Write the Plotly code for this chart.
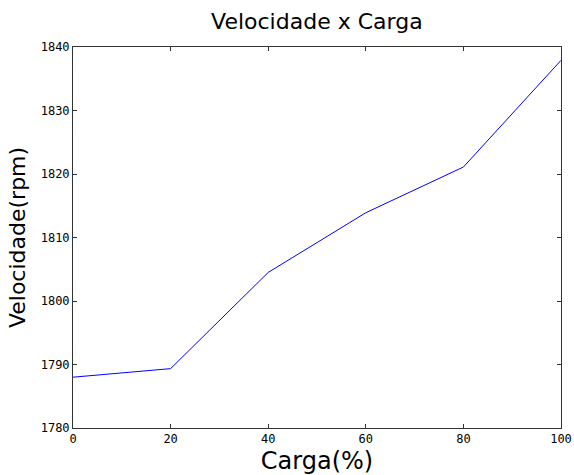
import plotly.graph_objects as go

carga = [0, 20, 40, 60, 80, 100]
velocidade = [1788.0, 1789.35, 1804.5, 1813.9, 1821.1, 1837.9]
x_ticks = [0, 20, 40, 60, 80, 100]
y_ticks = [1780, 1790, 1800, 1810, 1820, 1830, 1840]

fig = go.Figure()
fig.add_trace(go.Scatter(x=carga, y=velocidade, mode="lines",
                         line=dict(color="#0000ff", width=1), showlegend=False))

axis_common = dict(showgrid=False, zeroline=False, showline=True, linecolor="#333333",
                   linewidth=1, mirror="allticks", ticks="inside", ticklen=4,
                   tickcolor="#333333", automargin=False,
                   tickfont=dict(family="DejaVu Sans Mono", size=12, color="#000000"))

fig.update_layout(
    width=574, height=475,
    margin=dict(l=73, r=13, t=47, b=47),
    paper_bgcolor="white", plot_bgcolor="white",
    title=dict(text="Velocidade x Carga", x=0.552, xanchor="center", y=0.955, yanchor="middle",
               font=dict(family="DejaVu Sans", size=22, color="#000000")),
    xaxis=dict(range=[0, 100], tickvals=x_ticks,
               title=dict(text="Carga(%)", standoff=6,
                          font=dict(family="DejaVu Sans", size=24, color="#000000")),
               **axis_common),
    yaxis=dict(range=[1780, 1840], tickvals=y_ticks,
               title=dict(text="Velocidade(rpm)", standoff=8,
                          font=dict(family="DejaVu Sans", size=22, color="#000000")),
               **axis_common),
)

fig.write_html("out.html")
